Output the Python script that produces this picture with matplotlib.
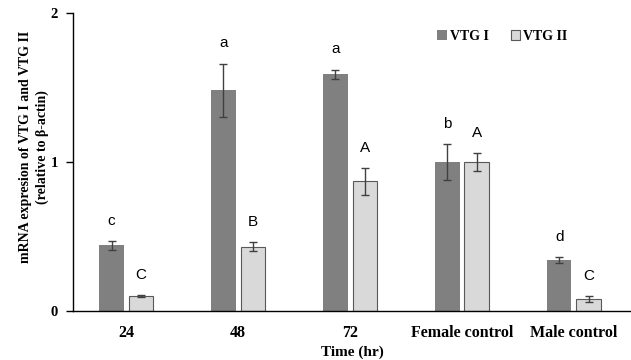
import numpy as np
import matplotlib.pyplot as plt

#   data
categories = ['24', '48', '72', 'Female control', 'Male control']
vtg1 = [0.44, 1.48, 1.59, 1.00, 0.34]
vtg1_err = [0.03, 0.18, 0.03, 0.12, 0.02]
vtg2 = [0.10, 0.43, 0.87, 1.00, 0.08]
vtg2_err = [0.005, 0.03, 0.09, 0.06, 0.02]
vtg1_letters = ['c', 'a', 'a', 'b', 'd']
vtg2_letters = ['C', 'B', 'A', 'A', 'C']

serif = 'Liberation Serif'
sans = 'Liberation Sans'

fig = plt.figure(figsize=(6.31, 3.6), dpi=100)
ax = fig.add_axes([0.1157, 0.136, 0.8843, 0.828])

x = np.arange(len(categories))
w = 0.22
off = 0.132

#   the two bar series with error bars
ax.bar(x - off, vtg1, w, color='#808080', label='VTG I', zorder=2)
ax.bar(x + off, vtg2, w, color='#d9d9d9', edgecolor='#595959', linewidth=0.8,
       label='VTG II', zorder=2)
ax.errorbar(x - off, vtg1, yerr=vtg1_err, fmt='none', ecolor='#404040',
            elinewidth=1, capsize=3, capthick=1, zorder=3)
ax.errorbar(x + off, vtg2, yerr=vtg2_err, fmt='none', ecolor='#404040',
            elinewidth=1, capsize=3, capthick=1, zorder=3)

#   significance letters above each bar
for i in range(len(categories)):
    ax.text(x[i] - off, vtg1[i] + vtg1_err[i] + 0.09, vtg1_letters[i],
            ha='center', va='bottom', fontsize=11, family=sans)
    ax.text(x[i] + off, vtg2[i] + vtg2_err[i] + 0.09, vtg2_letters[i],
            ha='center', va='bottom', fontsize=11, family=sans)

ax.set_xlim(-0.476, 4.51)
ax.set_ylim(0, 2)
ax.set_yticks([0, 1, 2])
ax.set_yticklabels(['0', '1', '2'], fontsize=10.5, fontweight='bold', family=serif)
ax.set_xticks(x)
ax.set_xticklabels(categories, fontsize=11.5, fontweight='bold', family=serif)
ax.tick_params(axis='x', length=0, pad=10)
ax.tick_params(axis='y', length=5, width=1, direction='out', pad=6)

for s in ['top', 'right']:
    ax.spines[s].set_visible(False)
ax.spines['left'].set_linewidth(1)
ax.spines['bottom'].set_linewidth(1)

ax.set_xlabel('Time (hr)', fontsize=11, fontweight='bold', family=serif, labelpad=3)
ax.set_ylabel('mRNA expresion of VTG I and VTG II\n(relative to β-actin)',
              fontsize=10, fontweight='bold', family=serif, linespacing=1.3)
ax.yaxis.set_label_coords(-0.043, 0.55)

leg = ax.legend(loc='upper left', bbox_to_anchor=(0.63, 0.985), ncol=2, frameon=False,
                prop={'family': serif, 'weight': 'bold', 'size': 10},
                handlelength=0.7, handleheight=0.7, handletextpad=0.2,
                columnspacing=1.6)

plt.savefig('out.png', dpi=100)
